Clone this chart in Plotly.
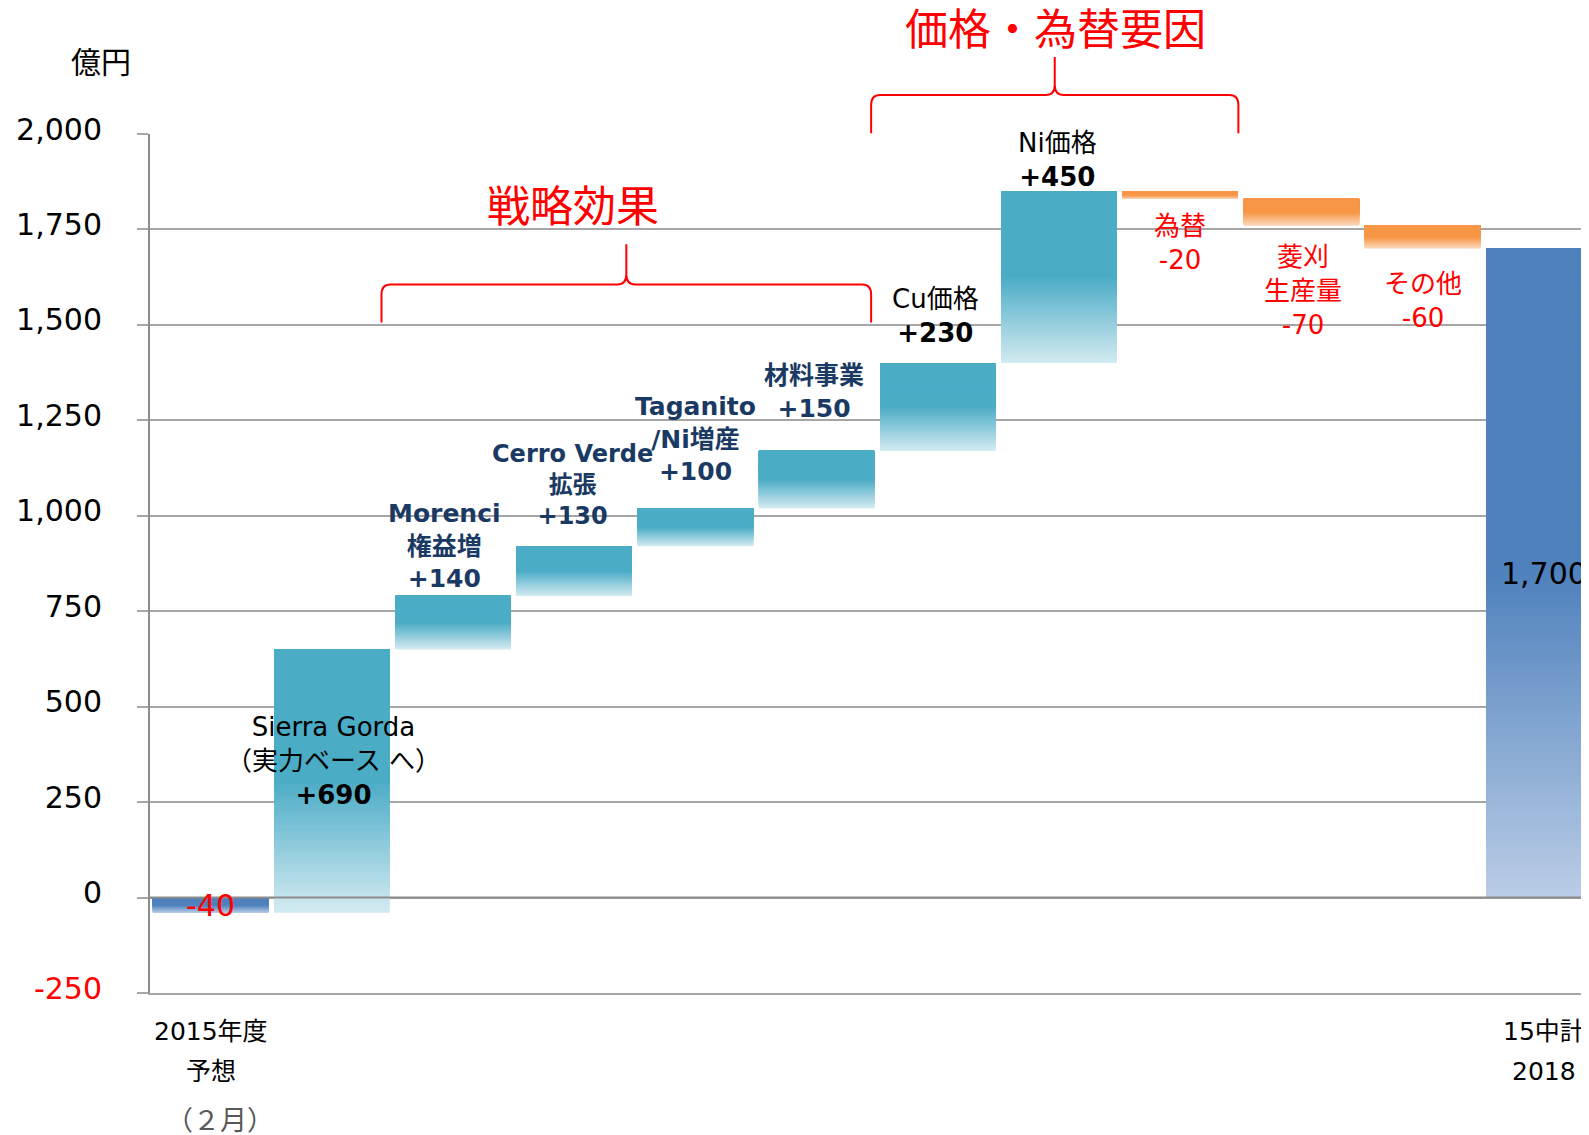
import plotly.graph_objects as go

# ---------------- data ----------------
categories = ["2015年度予想", "Sierra Gorda", "Morenci", "Cerro Verde", "Taganito/Ni増産",
              "材料事業", "Cu価格", "Ni価格", "為替", "菱刈生産量", "その他", "15中計2018"]
start_value = -40
deltas = [690, 140, 130, 100, 150, 230, 450, -20, -70, -60]
final_value = 1700

label_names = ["", "Sierra Gorda<br>（実力ベース へ）", "Morenci<br>権益増", "Cerro Verde<br>拡張",
               "Taganito<br>/Ni増産", "材料事業", "Cu価格", "Ni価格", "為替", "菱刈<br>生産量",
               "その他", ""]
first_tick_lines = ["2015年度", "予想", "（２月）"]
last_tick_lines = ["15中計", "2018"]
group_titles = ["戦略効果", "価格・為替要因"]
y_ticks = [-250, 0, 250, 500, 750, 1000, 1250, 1500, 1750, 2000]

# ---------------- derived bar geometry ----------------
lows, highs, kinds = [], [], []
lows.append(min(0, start_value)); highs.append(max(0, start_value)); kinds.append("total")
level = start_value
for d in deltas:
    new = level + d
    lows.append(min(level, new)); highs.append(max(level, new))
    kinds.append("up" if d > 0 else "down")
    level = new
lows.append(0); highs.append(final_value); kinds.append("total")
values = [start_value] + deltas + [final_value]

palette = {
    "total": ("#4F81BD", "#BACDE6"),
    "up": ("#4BACC6", "#D4EBF1"),
    "down": ("#F79646", "#FBD9BF"),
}

def hex2rgb(h):
    h = h.lstrip("#")
    return [int(h[i:i + 2], 16) for i in (0, 2, 4)]

def mix(c1, c2, t):
    a, b = hex2rgb(c1), hex2rgb(c2)
    return "rgb(%d,%d,%d)" % tuple(round(a[i] + (b[i] - a[i]) * t) for i in range(3))

def grad_color(kind, t):  # t: 0 = top of bar, 1 = bottom
    top, bot = palette[kind]
    if t <= 0.5:
        return top
    return mix(top, bot, (t - 0.5) / 0.5)

fig = go.Figure()
N = 90
BAR_W = 0.953
for k in range(N):
    bases, hs, cols = [], [], []
    for lo, hi, kind in zip(lows, highs, kinds):
        h = hi - lo
        b = lo + h * k / N
        bases.append(b)
        hs.append(hi - b)
        t = 1 - (k + 0.5) / N
        cols.append(grad_color(kind, t))
    fig.add_trace(go.Bar(x=categories, y=hs, base=bases, width=BAR_W,
                         marker=dict(color=cols, line=dict(width=0)),
                         hoverinfo="skip", showlegend=False))

# ---------------- layout ----------------
# the page body has an 8px margin, so the figure is drawn 8px in from the top-left
OFF = 8
W, H = 1589 - OFF, 1135 - OFF
ML, MR, MT, MB = 150 - OFF, 0, 134 - OFF, 1135 - 993
XR = [-0.5, 11.373]
YR = [-250, 2000]
PW, PH = W - ML - MR, H - MT - MB

CJK = "DejaVu Sans, Noto Sans CJK JP, sans-serif"
RED = "#FF0000"
NAVY = "#1B3A63"
GRID = "#A6A6A6"

tick_text = []
for v in y_ticks:
    s = f"{v:,}"
    if v < 0:
        s = f'<span style="color:{RED}">{s}</span>'
    tick_text.append(s)

fig.update_layout(
    width=W, height=H, margin=dict(l=ML, r=MR, t=MT, b=MB, pad=0),
    plot_bgcolor="white", paper_bgcolor="white", barmode="overlay", showlegend=False,
    font=dict(family=CJK, size=26, color="black"),
    xaxis=dict(type="category", categoryorder="array", categoryarray=categories,
               range=XR, showticklabels=False, showgrid=False, zeroline=False,
               showline=True, linecolor=GRID, linewidth=2, ticks=""),
    yaxis=dict(range=YR, tickvals=y_ticks, ticktext=tick_text, showgrid=True,
               gridcolor=GRID, gridwidth=2, zeroline=False, showline=True,
               linecolor="#8C8C8C", linewidth=2, ticks="outside", ticklen=11,
               tickcolor=GRID, tickwidth=2, tickfont=dict(size=30, color="black"),
               ticklabelstandoff=29, ticklabelshift=-5),
)

def px_(idx):
    return (idx - XR[0]) / (XR[1] - XR[0])

def py_(val):
    return (val - YR[0]) / (YR[1] - YR[0])

# zero line above bars
fig.add_shape(type="line", xref="paper", yref="y", x0=0, x1=1, y0=0, y1=0,
              line=dict(color="#8C8C8C", width=2), layer="above")

# braces
def brace(i0, i1, v_end, v_h, v_peak):
    x0, x1, xm = px_(i0), px_(i1), px_((i0 + i1) / 2)
    ye, yh, yp = py_(v_end), py_(v_h), py_(v_peak)
    dx, ry = 9 / PW, 10 / PH
    return (f"M {x0},{ye} L {x0},{yh - ry} Q {x0},{yh} {x0 + dx},{yh} "
            f"L {xm - dx},{yh} Q {xm},{yh} {xm},{yh + ry} L {xm},{yp} "
            f"L {xm},{yh + ry} Q {xm},{yh} {xm + dx},{yh} "
            f"L {x1 - dx},{yh} Q {x1},{yh} {x1},{yh - ry} L {x1},{ye}")

fig.add_shape(type="path", xref="paper", yref="paper",
              path=brace(1.41, 5.45, 1506, 1606, 1711),
              line=dict(color=RED, width=2), fillcolor="rgba(0,0,0,0)", layer="above")
fig.add_shape(type="path", xref="paper", yref="paper",
              path=brace(5.45, 8.48, 2002, 2102, 2202),
              line=dict(color=RED, width=2), fillcolor="rgba(0,0,0,0)", layer="above")

# group titles
fig.add_annotation(xref="paper", yref="paper", x=px_(2.99), y=py_(1808), yshift=4,
                   text=group_titles[0], showarrow=False,
                   font=dict(size=43, color=RED, family="Noto Sans CJK JP"),
                   xanchor="center", yanchor="middle")
fig.add_annotation(xref="paper", yref="paper", x=px_(6.97), y=py_(2269), yshift=5,
                   text=group_titles[1], showarrow=False,
                   font=dict(size=43, color=RED, family="Noto Sans CJK JP"),
                   xanchor="center", yanchor="middle")

# unit label
fig.add_annotation(xref="paper", yref="paper", x=0, y=1, xshift=-49, yshift=74, text="億円",
                   showarrow=False, font=dict(size=30, color="black", family="Noto Sans CJK JP"),
                   xanchor="center", yanchor="middle")

# bar labels: (anchor, xshift, yshift, color, size, style)
label_style = [
    ("mid", 0, 0, RED, 30, "plain"),
    ("mid", 2, 20, "black", 26, "valbold"),
    ("top", -9, 1, NAVY, 25, "allbold"),
    ("top", -2, 14, NAVY, 24, "allbold"),
    ("top", 0, 20, NAVY, 25, "allbold"),
    ("top", -3, 26, NAVY, 25, "allbold"),
    ("top", -2, 13, "black", 26, "valbold"),
    ("top", -2, -3, "black", 26, "valbold"),
    ("bottom", 0, -10, RED, 26, "plain"),
    ("bottom", 2, -14, RED, 26, "plain"),
    ("bottom", 0, -18, RED, 26, "plain"),
    ("mid", 0, 0, "black", 30, "plain"),
]
for i, (cat, lo, hi, val, name, st) in enumerate(zip(categories, lows, highs, values, label_names, label_style)):
    anchor, xs, ys, color, size, style = st
    if kinds[i] == "total":
        vtxt = f"{val:,}"
    else:
        vtxt = f"{val:+d}"
    if style == "valbold":
        txt = (name + "<br>" if name else "") + f"<b>{vtxt}</b>"
    elif style == "allbold":
        txt = "<b>" + (name + "<br>" if name else "") + vtxt + "</b>"
    else:
        txt = (name + "<br>" if name else "") + vtxt
    if anchor == "top":
        y, ya = hi, "bottom"
    elif anchor == "bottom":
        y, ya = lo, "top"
    else:
        y, ya = (lo + hi) / 2, "middle"
    fig.add_annotation(x=cat, y=y, xref="x", yref="y", text=txt, showarrow=False,
                       yanchor=ya, xanchor="center", xshift=xs, yshift=ys,
                       font=dict(size=size, color=color, family=CJK))

# x category labels (only first and last)
first_offsets = [38, 78, 127]
first_colors = ["black", "black", "#595959"]
first_sizes = [25, 25, 27]
first_xshift = [0, 0, 9]
for line, off, col, sz, xs in zip(first_tick_lines, first_offsets, first_colors, first_sizes, first_xshift):
    fig.add_annotation(x=categories[0], xref="x", yref="paper", y=0, yshift=-off, xshift=xs,
                       text=line, showarrow=False, yanchor="middle", xanchor="center",
                       font=dict(size=sz, color=col, family=CJK))
for line, off in zip(last_tick_lines, [38, 78]):
    fig.add_annotation(x=categories[-1], xref="x", yref="paper", y=0, yshift=-off, text=line,
                       showarrow=False, yanchor="middle", xanchor="center",
                       font=dict(size=25, color="black", family=CJK))

fig.write_html("out.html")
